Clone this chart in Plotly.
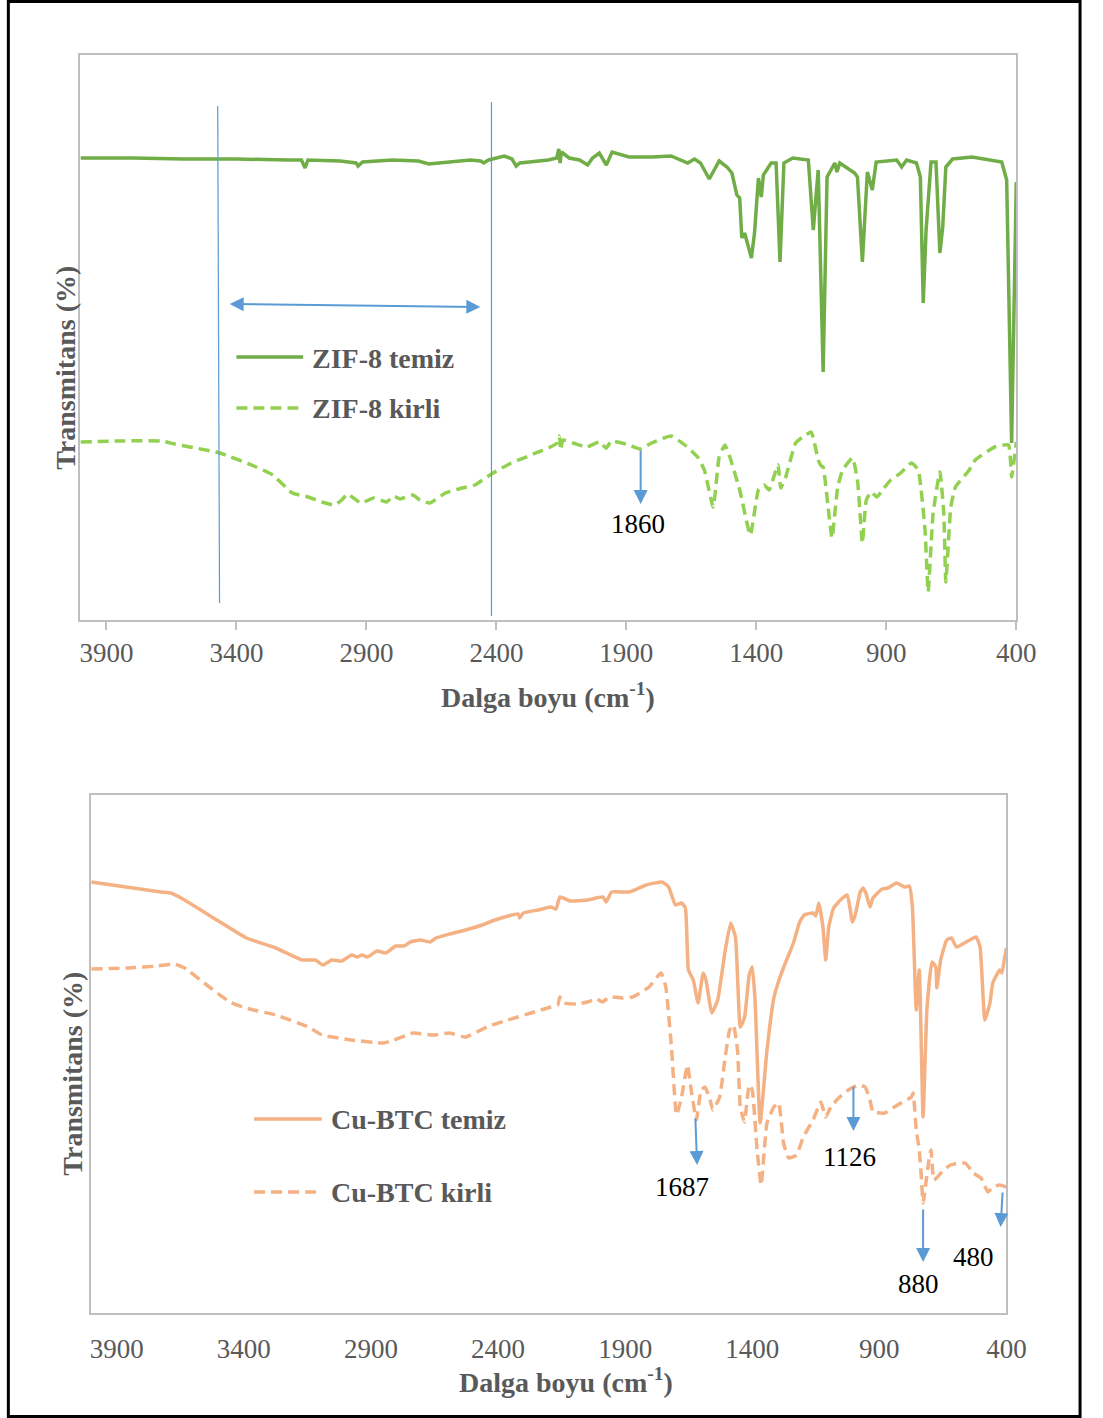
import plotly.graph_objects as go

W, H = 1103, 1418

# ---------------- data ----------------
zif_temiz_wn = [4000, 3800, 3600, 3400, 3200, 3150, 3136, 3125, 3000, 2940, 2932, 2915, 2800, 2700, 2660, 2620,
                2500, 2460, 2449, 2430, 2370, 2340, 2324, 2310, 2268, 2200, 2168, 2160, 2155, 2150, 2120, 2080,
                2049, 2030, 2004, 1977, 1955, 1890, 1800, 1728, 1664, 1638, 1615, 1581, 1543, 1513, 1494, 1475,
                1464, 1456, 1445, 1419, 1407, 1392, 1381, 1373, 1343, 1324, 1309, 1294, 1260, 1200, 1181, 1162,
                1143, 1128, 1098, 1090, 1079, 1022, 1011, 992, 973, 954, 939, 860, 841, 822, 784, 769, 758, 747,
                728, 709, 694, 683, 671, 645, 570, 456, 437, 418, 400]
zif_temiz_t = [92.4, 92.4, 92.2, 92.2, 92.0, 92.0, 90.4, 92.0, 91.8, 91.4, 90.8, 91.6, 92.0, 91.8, 91.2, 91.4,
               92.0, 91.8, 91.4, 92.0, 92.8, 92.2, 90.8, 91.4, 91.6, 92.0, 92.4, 94.2, 91.4, 93.6, 92.4, 92.0,
               91.0, 92.4, 93.4, 91.0, 93.6, 92.6, 92.6, 92.8, 91.4, 92.2, 91.4, 88.2, 91.8, 90.6, 89.4, 85.0,
               84.4, 76.4, 77.4, 72.4, 77.4, 88.4, 84.6, 89.0, 91.4, 91.4, 71.6, 91.4, 92.4, 92.0, 78.0, 90.0,
               49.6, 88.6, 91.4, 89.6, 91.4, 89.4, 88.6, 71.6, 89.6, 86.0, 91.6, 92.0, 90.6, 92.0, 91.4, 88.6, 63.4, 78.0,
               91.6, 91.6, 73.4, 78.6, 90.6, 92.2, 92.6, 91.6, 88.0, 35.4, 87.6]

zif_kirli_wn = [4000, 3850, 3690, 3638, 3464, 3324, 3260, 3185, 3124, 3072, 3022, 2995, 2973, 2950, 2921, 2872,
                2822, 2796, 2770, 2721, 2694, 2656, 2596, 2532, 2483, 2419, 2343, 2294, 2240, 2192, 2166, 2158,
                2152, 2145, 2105, 2053, 2004, 1977, 1958, 1890, 1845, 1803, 1728, 1675, 1626, 1600, 1566, 1543,
                1521, 1502, 1464, 1423, 1392, 1370, 1351, 1317, 1306, 1287, 1249, 1222, 1189, 1162, 1150, 1143,
                1124, 1109, 1087, 1068, 1030, 1011, 992, 977, 958, 936, 909, 883, 845, 803, 777, 766, 751, 739,
                720, 694, 679, 671, 652, 634, 581, 558, 483, 430, 418, 400]
zif_kirli_t = [35.6, 35.8, 35.8, 35.2, 33.4, 30.6, 29.0, 25.4, 24.6, 23.6, 23.0, 24.0, 25.2, 24.4, 23.4, 24.4,
               23.6, 24.8, 24.2, 25.0, 24.0, 23.4, 25.4, 26.4, 27.0, 29.2, 31.4, 32.4, 33.6, 34.6, 35.4, 36.8,
               34.0, 36.0, 35.4, 34.6, 35.6, 34.4, 35.8, 35.0, 34.2, 35.4, 36.8, 35.0, 32.6, 30.0, 22.6, 32.6,
               35.0, 32.6, 26.0, 17.0, 26.0, 27.0, 26.0, 31.0, 26.4, 28.6, 35.4, 36.6, 37.6, 32.0, 30.8, 30.6,
               22.6, 16.4, 26.6, 30.0, 32.4, 28.0, 15.4, 24.0, 25.6, 24.6, 26.4, 28.0, 29.4, 31.4, 30.0, 26.0, 18.0, 5.6,
               21.4, 29.6, 21.4, 7.6, 22.6, 26.6, 30.0, 32.0, 34.6, 35.0, 28.6, 35.6]

cu_temiz_wn = [4000, 3726, 3687, 3633, 3506, 3390, 3274, 3170, 3119, 3088, 3054, 3015, 2976, 2953, 2935, 2914,
               2876, 2841, 2802, 2770, 2745, 2706, 2667, 2644, 2590, 2528, 2451, 2424, 2374, 2320, 2315, 2300,
               2242, 2192, 2172, 2157, 2143, 2115, 2049, 1987, 1975, 1953, 1883, 1817, 1755, 1729, 1702, 1678,
               1663, 1651, 1632, 1613, 1593, 1582, 1559, 1536, 1508, 1485, 1466, 1447, 1430, 1412, 1400, 1389,
               1369, 1342, 1315, 1292, 1265, 1238, 1215, 1196, 1161, 1150, 1138, 1122, 1111, 1099, 1080, 1045,
               1026, 1006, 995, 975, 964, 953, 937, 925, 890, 867, 832, 801, 782, 770, 755, 743, 728, 713, 693,
               678, 674, 659, 635, 616, 597, 520, 504, 485, 465, 454, 427, 418, 407, 400]
cu_temiz_t = [86.2, 84.2, 84.0, 82.6, 78.6, 75.0, 73.0, 70.6, 70.6, 69.6, 70.6, 70.4, 71.6, 71.2, 71.6, 71.2,
              72.4, 72.0, 73.4, 73.4, 74.2, 74.6, 74.2, 75.0, 75.8, 76.6, 77.8, 78.4, 79.2, 79.8, 79.0, 80.0,
              80.6, 81.2, 80.8, 83.2, 83.0, 82.4, 82.6, 83.2, 82.2, 84.2, 84.2, 85.6, 86.2, 85.2, 81.6, 82.0,
              81.0, 68.6, 66.6, 62.0, 68.0, 66.6, 60.0, 62.6, 72.0, 78.0, 75.2, 57.2, 59.2, 67.6, 69.2, 62.6,
              38.0, 52.6, 63.0, 67.0, 70.6, 74.0, 78.0, 79.6, 80.0, 79.4, 82.0, 77.2, 70.6, 77.2, 81.0, 83.0,
              83.6, 78.2, 79.6, 84.2, 85.0, 84.0, 81.2, 83.0, 84.8, 85.0, 86.0, 85.2, 85.4, 81.2, 60.6, 68.6, 39.2, 60.6, 70.2,
              69.2, 65.0, 70.6, 74.6, 75.0, 73.2, 75.2, 73.2, 58.6, 62.0, 66.0, 68.6, 68.0, 71.2, 73.0]

cu_kirli_wn = [4000, 3853, 3737, 3672, 3633, 3556, 3455, 3378, 3274, 3146, 3092, 2976, 2849, 2810, 2733, 2656,
               2590, 2528, 2435, 2374, 2270, 2192, 2165, 2157, 2140, 2088, 2049, 2011, 1990, 1960, 1910, 1871,
               1806, 1759, 1740, 1717, 1698, 1678, 1655, 1640, 1620, 1601, 1586, 1566, 1555, 1528, 1508, 1489,
               1474, 1458, 1447, 1431, 1412, 1400, 1381, 1365, 1342, 1315, 1296, 1277, 1257, 1226, 1199, 1161,
               1130, 1111, 1091, 1060, 1022, 983, 956, 937, 925, 879, 829, 774, 767, 755, 743, 736, 728, 717,
               705, 697, 686, 675, 647, 620, 562, 531, 500, 473, 454, 427, 400]
cu_kirli_t = [68.8, 69.0, 69.4, 69.8, 69.0, 66.0, 62.2, 60.8, 59.6, 57.2, 55.6, 54.6, 54.0, 54.6, 56.0, 55.6,
              56.0, 55.2, 57.4, 58.4, 60.0, 61.2, 61.6, 63.2, 62.0, 61.8, 62.2, 62.8, 62.2, 63.2, 63.0, 63.2,
              65.2, 68.0, 65.2, 52.6, 39.6, 43.2, 49.6, 44.6, 38.6, 44.6, 45.2, 42.6, 40.6, 43.2, 50.6, 56.6,
              57.6, 52.6, 41.2, 38.2, 45.6, 44.6, 32.6, 25.6, 38.0, 41.2, 42.0, 34.0, 31.0, 31.6, 35.2, 38.6,
              42.2, 39.2, 41.2, 43.0, 44.6, 45.6, 45.2, 42.6, 40.2, 40.0, 41.6, 43.2, 44.0, 36.6, 32.6, 28.0, 22.0, 26.0,
              30.6, 32.6, 26.6, 27.0, 28.6, 29.6, 30.0, 28.0, 27.0, 24.2, 25.2, 25.6, 25.2]

tick_vals = [3900, 3400, 2900, 2400, 1900, 1400, 900, 400]
tick_text = ["3900", "3400", "2900", "2400", "1900", "1400", "900", "400"]

# ---------------- style ----------------
GREEN = "#70AD47"
LGREEN = "#92D050"
ORANGE = "#F4B183"
BLUE = "#5B9BD5"
GRAY = "#595959"
FRAME = "#BFBFBF"
SERIF = "Liberation Serif, Times New Roman, serif"
DASH = "11px,6px"


def px(x):
    return x / W


def py(y):
    return 1 - y / H


fig = go.Figure()
fig.add_trace(go.Scatter(x=zif_temiz_wn, y=zif_temiz_t, mode="lines", name="ZIF-8 temiz",
                         line=dict(color=GREEN, width=3.5), xaxis="x", yaxis="y"))
fig.add_trace(go.Scatter(x=zif_kirli_wn, y=zif_kirli_t, mode="lines", name="ZIF-8 kirli",
                         line=dict(color=LGREEN, width=3.5, dash=DASH, shape="spline", smoothing=0.4),
                         xaxis="x", yaxis="y"))
fig.add_trace(go.Scatter(x=cu_temiz_wn, y=cu_temiz_t, mode="lines", name="Cu-BTC temiz",
                         line=dict(color=ORANGE, width=3.5, shape="spline", smoothing=0.4), xaxis="x2", yaxis="y2"))
fig.add_trace(go.Scatter(x=cu_kirli_wn, y=cu_kirli_t, mode="lines", name="Cu-BTC kirli",
                         line=dict(color=ORANGE, width=3.5, dash=DASH, shape="spline", smoothing=0.4),
                         xaxis="x2", yaxis="y2"))

axis_common = dict(showgrid=False, zeroline=False, showline=True, linecolor=FRAME, linewidth=1.5,
                   mirror=True, range=[4000, 400], tickvals=tick_vals, ticktext=tick_text,
                   tickfont=dict(family=SERIF, size=27, color=GRAY))

fig.update_layout(
    width=W, height=H, autosize=False, margin=dict(l=0, r=0, t=0, b=0, pad=0),
    paper_bgcolor="white", plot_bgcolor="white", showlegend=False, hovermode=False,
    xaxis=dict(domain=[px(81), px(1035)], anchor="y", ticks="outside", ticklen=8, tickcolor=FRAME,
               tickwidth=1.5, **axis_common),
    yaxis=dict(domain=[py(620), py(55)], anchor="x", range=[0, 113], showticklabels=False, ticks="",
               showgrid=False, zeroline=False, showline=True, linecolor=FRAME, linewidth=1.5, mirror=True),
    xaxis2=dict(domain=[px(92), px(1025)], anchor="y2", ticks="", ticklabelstandoff=11, **axis_common),
    yaxis2=dict(domain=[py(1313), py(795)], anchor="x2", range=[0, 103.6], showticklabels=False, ticks="",
                showgrid=False, zeroline=False, showline=True, linecolor=FRAME, linewidth=1.5, mirror=True),
)

shapes = []
# outer black frame
shapes.append(dict(type="rect", xref="paper", yref="paper", x0=px(7.5), x1=px(1100), y0=py(1.5), y1=py(1416.5),
                   line=dict(color="black", width=3), fillcolor="rgba(0,0,0,0)"))
# vertical marker lines (top chart)
shapes.append(dict(type="line", xref="x", yref="y", x0=3472, x1=3465, y0=102.8, y1=3.4,
                   line=dict(color=BLUE, width=1.2)))
shapes.append(dict(type="line", xref="x", yref="y", x0=2419, x1=2419, y0=103.6, y1=0.8,
                   line=dict(color=BLUE, width=1.2)))
# manual legend samples
shapes.append(dict(type="line", xref="paper", yref="paper", x0=px(240), x1=px(308), y0=py(357), y1=py(357),
                   line=dict(color=GREEN, width=3.5)))
shapes.append(dict(type="line", xref="paper", yref="paper", x0=px(240), x1=px(308), y0=py(408), y1=py(408),
                   line=dict(color=LGREEN, width=3.5, dash=DASH)))
shapes.append(dict(type="line", xref="paper", yref="paper", x0=px(258), x1=px(327), y0=py(1119), y1=py(1119),
                   line=dict(color=ORANGE, width=3.5)))
shapes.append(dict(type="line", xref="paper", yref="paper", x0=px(258), x1=px(327), y0=py(1192), y1=py(1192),
                   line=dict(color=ORANGE, width=3.5, dash=DASH)))
fig.update_layout(shapes=shapes)

ann = []
bold = dict(family=SERIF, size=28, color=GRAY)


def text_paper(x, y, t, font, xanchor="center", angle=0):
    ann.append(dict(xref="paper", yref="paper", x=px(x), y=py(y), text=t, showarrow=False,
                    xanchor=xanchor, yanchor="middle", font=font, textangle=angle))


text_paper(65, 368, "<b>Transmitans (%)</b>", bold, angle=-90)
text_paper(72, 1074, "<b>Transmitans (%)</b>", bold, angle=-90)
text_paper(558, 695, "<b>Dalga boyu (cm<sup>-1</sup>)</b>", bold)
text_paper(576, 1380, "<b>Dalga boyu (cm<sup>-1</sup>)</b>", bold)
text_paper(315, 358, "<b>ZIF-8 temiz</b>", bold, xanchor="left")
text_paper(315, 408, "<b>ZIF-8 kirli</b>", bold, xanchor="left")
text_paper(334, 1119, "<b>Cu-BTC temiz</b>", bold, xanchor="left")
text_paper(334, 1192, "<b>Cu-BTC kirli</b>", bold, xanchor="left")


def arrow(xr, yr, x0, y0, x1, y1, both=False):
    d = dict(xref=xr, yref=yr, axref=xr, ayref=yr, x=x1, y=y1, ax=x0, ay=y0, text="", showarrow=True,
             arrowhead=2, arrowsize=1.4, arrowwidth=2, arrowcolor=BLUE, standoff=0)
    if both:
        d.update(arrowside="end+start", startarrowhead=2, startarrowsize=1.4, startstandoff=0)
    ann.append(d)


def label(xr, yr, x, y, t):
    ann.append(dict(xref=xr, yref=yr, x=x, y=y, text=t, showarrow=False,
                    font=dict(family=SERIF, size=27, color="black")))


arrow("x", "y", 2456, 62.6, 3426, 63.2, both=True)
arrow("x", "y", 1845, 34.2, 1845, 23.2)
label("x", "y", 1856, 19.2, "1860")

arrow("x2", "y2", 1624, 39.2, 1617, 29.6)
label("x2", "y2", 1678, 25.2, "1687")
arrow("x2", "y2", 1002, 45.6, 1002, 36.4)
label("x2", "y2", 1018, 31.2, "1126")
arrow("x2", "y2", 728, 21.0, 728, 10.2)
label("x2", "y2", 747, 5.8, "880")
arrow("x2", "y2", 415, 24.4, 423, 17.2)
label("x2", "y2", 531, 11.2, "480")

fig.update_layout(annotations=ann)
fig.write_html("out.html", config={"responsive": False, "displayModeBar": False},
               post_script="document.body.style.margin='0px';document.body.style.overflow='hidden';")
